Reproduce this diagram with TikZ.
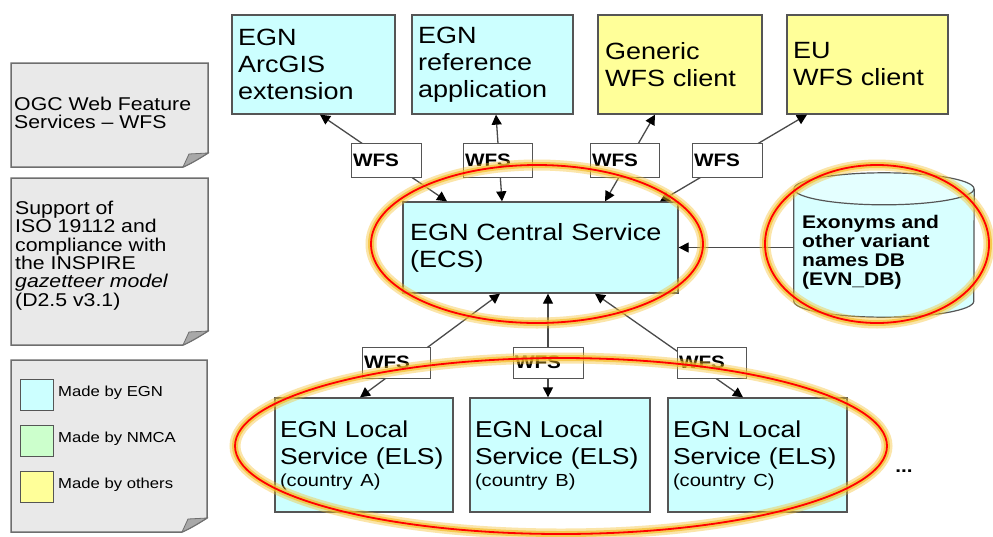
\documentclass[tikz,border=0pt]{standalone}
\usepackage{fontspec}
\setmainfont{Liberation Sans}[FakeStretch=1.15]
\usetikzlibrary{arrows.meta,calc}

\definecolor{egncyan}{HTML}{CCFFFF}
\definecolor{othyellow}{HTML}{FFFF99}
\definecolor{nmcagreen}{HTML}{CCFFCC}
\definecolor{edgegray}{HTML}{555555}
\definecolor{linkgray}{HTML}{4A4A4A}
\definecolor{notefill}{HTML}{E9E9E9}
\definecolor{noteedge}{HTML}{6E6E6E}
\definecolor{foldgray}{HTML}{A8A8A8}
\definecolor{glow}{HTML}{F5BE2A}
\definecolor{dbfill}{HTML}{D8FFFF}

% sticky note with a turned-up bottom right corner
\newcommand\notesheet[4]{%
  \filldraw[fill=notefill, draw=noteedge, line width=1.5pt]
    (#1,#2) -- (#3,#2) -- (#3,#4-14) .. controls (#3-8,#4-9) and (#3-16,#4-4) .. (#3-25,#4)
    -- (#1,#4) -- cycle;
  \filldraw[fill=foldgray, draw=noteedge, line width=.8pt]
    (#3-25,#4) -- (#3-19,#4-13) -- (#3,#4-14) .. controls (#3-8,#4-9) and (#3-16,#4-4) .. cycle;
}

\tikzset{
  box/.style={draw=edgegray, line width=1.3pt, rectangle, align=left,
    inner xsep=6pt, inner ysep=0pt, font=\fontsize{23.5}{27}\selectfont},
  egn/.style={box, fill=egncyan},
  oth/.style={box, fill=othyellow},
  topbox/.style={minimum height=99pt},
  localbox/.style={egn, inner xsep=5pt, minimum height=114pt, font=\fontsize{23}{27}\selectfont},
  wfsbox/.style={draw=edgegray, line width=1pt, fill=white, rectangle, align=left,
    inner xsep=2pt, inner ysep=0pt, font=\bfseries\fontsize{18}{18}\selectfont},
  legbox/.style={draw=edgegray, line width=1pt, rectangle, minimum width=33pt,
    minimum height=31pt, inner sep=0pt},
  legtext/.style={anchor=west, inner sep=0pt, font=\fontsize{14.5}{17}\selectfont},
  notetext/.style={anchor=north west, align=left, inner sep=0pt,
    font=\fontsize{18.5}{18.3}\selectfont},
  link/.style={draw=linkgray, line width=1.3pt, {Triangle[length=10pt,width=10pt,color=black]}-{Triangle[length=10pt,width=10pt,color=black]}},
  halo/.style={draw=glow, line width=11pt, opacity=0.4},
  halocore/.style={draw=glow, line width=6pt, opacity=0.7},
  ring/.style={draw=red, line width=1.8pt},
}

\newcommand\countryline[1]{{\fontsize{17.5}{19}\selectfont (country #1)}}

\begin{document}
\begin{tikzpicture}[x=1pt, y=-1pt]
\useasboundingbox (0,0) rectangle (993,536);
\fill[white] (0,0) rectangle (993,536);

% side notes
\notesheet{11}{63}{208}{167}
\notesheet{11}{178}{208}{345}
\notesheet{11}{360}{207}{532}

\node[notetext] (wfsnote) at (14,97) {OGC Web Feature\\Services – WFS};
\node[notetext] (isonote) at (15,201) {Support of\\ISO 19112 and\\compliance with\\the INSPIRE\\\textit{gazetteer model}\\(D2.5 v3.1)};

% legend
\node[legbox, fill=egncyan]   (legegn)  at (36.5,394.5) {};
\node[legbox, fill=nmcagreen] (legnmca) at (36.5,441) {};
\node[legbox, fill=othyellow] (legoth)  at (36.5,486.5) {};
\node[legtext] (legegnt)  at (58,393) {Made by EGN};
\node[legtext] (legnmcat) at (58,439) {Made by NMCA};
\node[legtext] (legotht)  at (58,485) {Made by others};

% client applications
\node[egn, topbox, minimum width=163pt, text width=151pt] (arcgis) at (313.5,64.5) {EGN\\ArcGIS\\extension};
\node[egn, topbox, minimum width=161pt, text width=149pt] (refapp) at (492.5,64.5) {EGN\\reference\\application};
\node[oth, topbox, minimum width=164pt, text width=150pt, inner xsep=7pt] (generic) at (680,64.5) {Generic\\WFS client};
\node[oth, topbox, minimum width=161pt, text width=149pt] (euclient) at (867.5,64.5) {EU\\WFS client};

% central service
\node[egn, minimum width=275pt, text width=261pt, inner xsep=7pt, minimum height=91pt] (ecs) at (540.5,247.5) {EGN Central Service\\(ECS)};

% local services
\node[localbox, minimum width=178pt, text width=168pt] (elsa) at (364,455)
  {EGN Local\\\mbox{Service (ELS)}\\[-5pt]\countryline{A}};
\node[localbox, minimum width=180pt, text width=170pt] (elsb) at (560,455)
  {EGN Local\\\mbox{Service (ELS)}\\[-5pt]\countryline{B}};
\node[localbox, minimum width=179pt, text width=169pt] (elsc) at (757.5,455)
  {EGN Local\\\mbox{Service (ELS)}\\[-5pt]\countryline{C}};
\node[font=\bfseries\fontsize{18}{18}\selectfont, inner sep=0pt] (more) at (904,471) {...};

% exonym database (cylinder)
\node[minimum width=180pt, minimum height=144pt, inner sep=0pt] (db) at (884,245) {};
\fill[dbfill] ($(db.north west)+(0,16)$) rectangle ($(db.south east)+(0,-16)$);
\fill[dbfill] ($(db.south)+(0,-16)$) ellipse [x radius=90pt, y radius=16pt];
\fill[dbfill!70!white] ($(db.north)+(0,16)$) ellipse [x radius=90pt, y radius=16pt];
\draw[edgegray, line width=1.2pt] ($(db.north west)+(0,16)$) -- ($(db.south west)+(0,-16)$)
  arc[start angle=180, end angle=360, x radius=90pt, y radius=16pt] -- ($(db.north east)+(0,16)$);
\draw[edgegray, line width=1.2pt] ($(db.north)+(0,16)$) ellipse [x radius=90pt, y radius=16pt];
\node[anchor=north west, align=left, inner sep=0pt, font=\bfseries\fontsize{18.3}{19}\selectfont] (dbtext) at (802,215)
  {Exonyms and\\other variant\\names DB\\(EVN\_DB)};

% connectors
\draw[link] ($(arcgis.south)+(6.5,0)$) -- ($(ecs.north)+(-93.5,0)$);
\draw[link] ($(refapp.south)+(3.5,0)$) -- ($(ecs.north)+(-38.5,0)$);
\draw[link] ($(generic.south)+(-25,0)$) -- ($(ecs.north)+(64.5,0)$);
\draw[link] ($(euclient.south)+(-60.5,0)$) -- ($(ecs.north)+(119.5,0)$);
\draw[draw=linkgray, line width=1.3pt, -{Triangle[length=10pt,width=10pt,color=black]}] (db.west |- ecs.east) -- (ecs.east);
\draw[link] ($(ecs.south)+(-40.5,0)$) -- ($(elsa.north)+(-4,0)$);
\draw[link] ($(ecs.south)+(7.5,0)$) -- ($(elsb.north)+(-12,0)$);
\draw[link] ($(ecs.south)+(54.5,0)$) -- ($(elsc.north)+(-14.5,0)$);

% protocol labels on the connectors
\node[wfsbox, minimum width=70pt, text width=66pt, minimum height=34pt] (wfs1) at (386,160) {WFS};
\node[wfsbox, minimum width=69pt, text width=65pt, minimum height=34pt] (wfs2) at (497.5,160) {WFS};
\node[wfsbox, minimum width=69pt, text width=65pt, minimum height=34pt] (wfs3) at (624.5,160) {WFS};
\node[wfsbox, minimum width=70pt, text width=66pt, minimum height=34pt] (wfs4) at (727,160) {WFS};
\node[wfsbox, minimum width=68pt, text width=64pt, minimum height=31pt] (wfsa) at (396,362.5) {WFS};
\node[wfsbox, minimum width=70pt, text width=66pt, minimum height=31pt] (wfsb) at (548,362.5) {WFS};
\node[wfsbox, minimum width=69pt, text width=65pt, minimum height=31pt] (wfsc) at (711.5,362.5) {WFS};

% highlight rings
\foreach \cx/\cy/\rx/\ry in {537/244/166/79, 877/244/112/79, 561/446/326/88} {
  \draw[halo] (\cx,\cy) ellipse [x radius=\rx pt, y radius=\ry pt];
  \draw[halocore] (\cx,\cy) ellipse [x radius=\rx pt, y radius=\ry pt];
  \draw[ring] (\cx,\cy) ellipse [x radius=\rx pt, y radius=\ry pt];
}
\end{tikzpicture}
\end{document}
